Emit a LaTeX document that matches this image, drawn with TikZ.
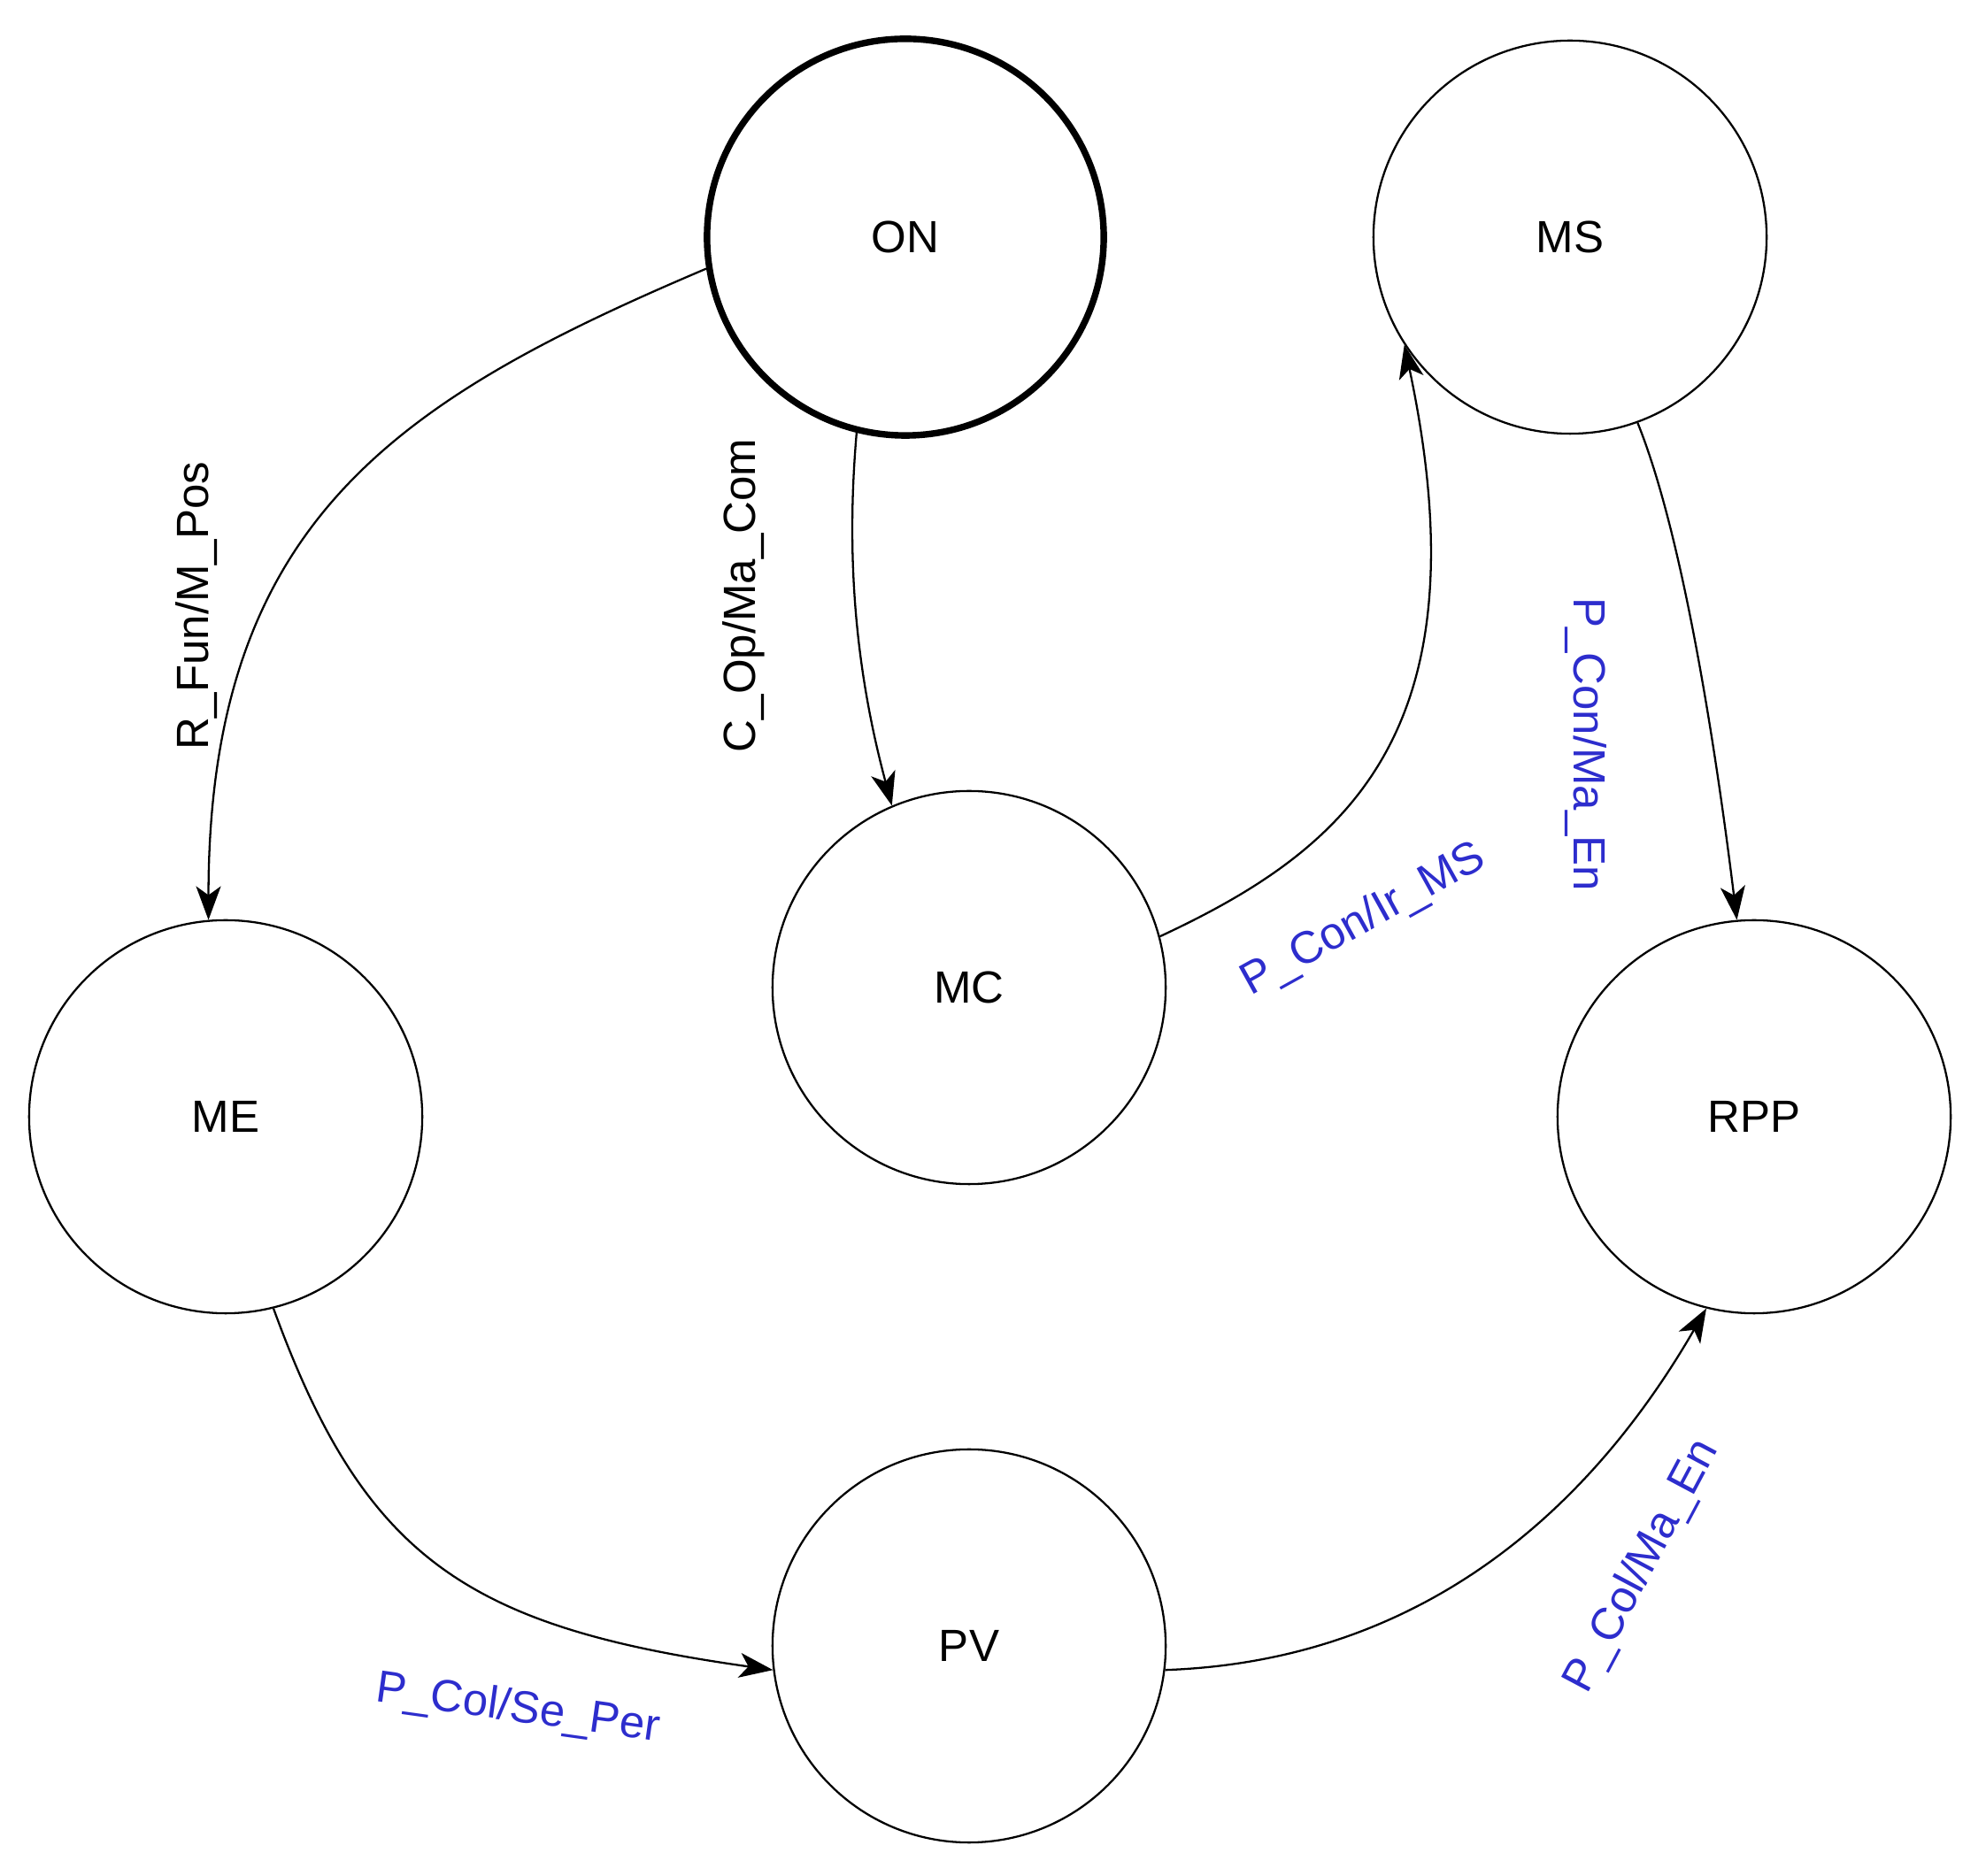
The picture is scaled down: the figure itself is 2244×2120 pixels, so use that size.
\documentclass[tikz,border=0pt]{standalone}
\usepackage{fontspec}
\setmainfont{Liberation Sans}
\usetikzlibrary{arrows.meta}
\definecolor{lblue}{RGB}{45,45,205}
\begin{document}
\begin{tikzpicture}[x=0.01cm,y=0.01cm,
  state/.style={circle,draw,line width=0.65pt,minimum size=4.44cm,inner sep=0pt,font=\fontsize{14.5}{17}\selectfont},
  thickstate/.style={state,line width=2.1pt,minimum size=4.48cm},
  edge/.style={line width=0.65pt,-{Stealth[length=0.38cm,width=0.28cm,inset=0.1cm]}},
  lbl/.style={font=\fontsize{14.5}{17}\selectfont,inner sep=1pt},
  blbl/.style={lbl,text=lblue}]
\useasboundingbox (0,0) rectangle (2244,2120);
\node[thickstate] (ON) at (1023,1852) {ON};
\node[state] (MS) at (1774,1852) {MS};
\node[state] (MC) at (1095,1004) {MC};
\node[state] (ME) at (255,858) {ME};
\node[state] (RPP) at (1982,858) {RPP};
\node[state] (PV) at (1095,260) {PV};

\draw[edge] (ON.189) .. controls +(203:380) and +(90:450) .. (ME.95);
\draw[edge] (ON.256) .. controls +(265:150) and +(105:150) .. (MC.113);
\draw[edge] (MC.15) .. controls +(25:230) and +(282:450) .. (MS.213);
\draw[edge] (MS.290) .. controls +(292:150) and +(97:150) .. (RPP.95);
\draw[edge] (ME.284) .. controls +(290:300) and +(172:350) .. (PV.187);
\draw[edge] (PV.353) .. controls +(2:300) and +(240:250) .. (RPP.256);

\node[lbl,rotate=90] (l1) at (222,1435) {R\_Fun/M\_Pos};
\node[lbl,rotate=90] (l2) at (840,1447) {C\_Op/Ma\_Com};
\node[blbl,rotate=29] (l3) at (1541,1080) {P\_Con/Ir\_MS};
\node[blbl,rotate=-90] (l4) at (1792,1279) {P\_Con/Ma\_En};
\node[blbl,rotate=-8] (l5) at (585,188) {P\_Col/Se\_Per};
\node[blbl,rotate=62] (l6) at (1856,350) {P\_Col/Ma\_En};
\end{tikzpicture}
\end{document}
